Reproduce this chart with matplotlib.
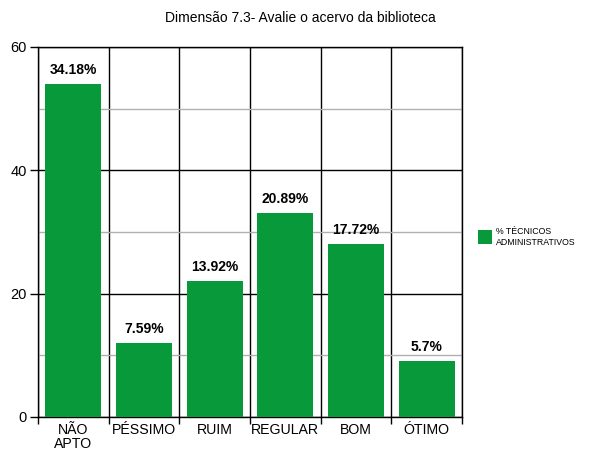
import numpy as np
import matplotlib.pyplot as plt
from matplotlib.lines import Line2D

plt.rcParams['font.family'] = ['Liberation Sans', 'DejaVu Sans']

categories = ['NÃO\nAPTO', 'PÉSSIMO', 'RUIM', 'REGULAR', 'BOM', 'ÓTIMO']
counts = [54, 12, 22, 33, 28, 9]
pct_labels = ['34.18%', '7.59%', '13.92%', '20.89%', '17.72%', '5.7%']
series_name = '% TÉCNICOS\nADMINISTRATIVOS'
green = '#07993a'

fig = plt.figure(figsize=(6, 4.63), dpi=100)
ax = fig.add_axes([0.0633, 0.0994, 0.7067, 0.7991])

x = np.arange(len(categories))
ax.bar(x, counts, width=0.79, color=green, zorder=3)
for xi, c, lab in zip(x, counts, pct_labels):
    ax.text(xi, c + 1.2, lab, ha='center', va='bottom', fontsize=10,
            fontweight='bold', zorder=4)

ax.set_xlim(-0.5, len(categories) - 0.5)
ax.set_ylim(0, 60)

# y grid: black majors, grey minors
ax.set_yticks([0, 20, 40, 60])
ax.set_yticks([10, 30, 50], minor=True)
ax.grid(axis='y', which='major', color='black', linewidth=1, zorder=1)
ax.grid(axis='y', which='minor', color='#b0b0b0', linewidth=1, zorder=1)

# x: labels at centres, tick marks + vertical lines at boundaries
ax.set_xticks(x)
ax.set_xticklabels(categories, fontsize=10.2, linespacing=1.0)
bounds = np.arange(-0.5, len(categories), 1.0)
ax.set_xticks(bounds, minor=True)
ax.grid(axis='x', which='minor', color='black', linewidth=1, zorder=1)
ax.tick_params(axis='x', which='major', length=0, pad=4)
ax.tick_params(axis='x', which='minor', length=5, width=1, direction='out')
ax.tick_params(axis='y', which='major', length=6, width=1, labelsize=10.5, pad=2)
ax.tick_params(axis='y', which='minor', length=0)

for s in ax.spines.values():
    s.set_linewidth(1)
    s.set_zorder(2)

fig.text(0.5, 0.961, 'Dimensão 7.3- Avalie o acervo da biblioteca',
         ha='center', va='center', fontsize=10)

handle = Line2D([], [], marker='s', linestyle='none', color=green,
                markeredgewidth=0, markersize=10)
fig.legend([handle], [series_name], loc='center left',
           bbox_to_anchor=(0.797, 0.488), frameon=False, fontsize=6.3,
           handlelength=1.6, handletextpad=0.4,
           borderaxespad=0, borderpad=0)

fig.savefig('out.png', dpi=100)
